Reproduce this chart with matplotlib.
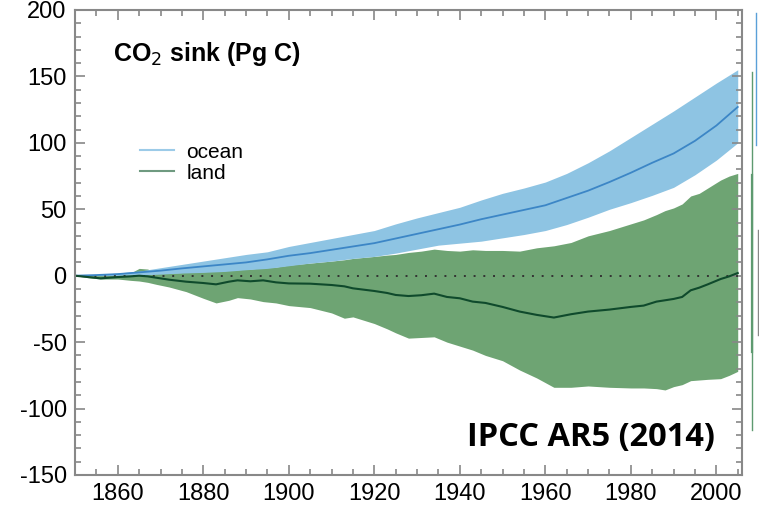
import numpy as np
import matplotlib
matplotlib.use('Agg')
import matplotlib.pyplot as plt
from matplotlib.lines import Line2D
from matplotlib.ticker import MultipleLocator

plt.rcParams['font.family'] = ['Liberation Sans', 'DejaVu Sans']
plt.rcParams['axes.unicode_minus'] = False

# ocean sink (Pg C): years, lower bound, central estimate, upper bound
ocean_years = [1850, 1855, 1860, 1865, 1870, 1875, 1880, 1885, 1890, 1895,
               1900, 1905, 1910, 1915, 1920, 1925, 1930, 1935, 1940, 1945,
               1950, 1955, 1960, 1965, 1970, 1975, 1980, 1985, 1990, 1995,
               2000, 2005]
ocean_low = [0, 0, 0.2, 0.5, 1.2, 2, 2.5, 3.2, 4.5, 5.5,
             7.5, 9.5, 11, 13, 14.5, 17, 20, 23, 24.5, 26,
             28.5, 31, 34, 38.5, 44, 50, 55, 60.5, 66.5, 76,
             87, 100]
ocean_mid = [0, 0.5, 1.2, 2.5, 3.8, 5.5, 7, 8.5, 10, 12.3,
             15, 17, 19.5, 22, 24.5, 28, 31.5, 35, 38.5, 42.5,
             46, 49.5, 53, 58.5, 64, 70.5, 77.5, 85, 92, 101.5,
             113, 127]
ocean_high = [0, 0.8, 2, 3.5, 6, 8.5, 11, 13.5, 16, 18,
              22, 25, 28, 31, 34, 39, 43.5, 47.5, 51.5, 57,
              62, 66, 70.5, 77, 85, 94, 104, 114, 124, 134.5,
              145, 155]

# land sink (Pg C)
land_years = [1850, 1853, 1856, 1860, 1863, 1865, 1867, 1869, 1872, 1876,
              1880, 1883, 1886, 1888, 1891, 1894, 1897, 1900, 1905, 1910,
              1913, 1915, 1920, 1923, 1925, 1928, 1931, 1934, 1937, 1940,
              1943, 1946, 1950, 1954, 1958, 1962, 1966, 1970, 1975, 1980,
              1983, 1986, 1988, 1990, 1992, 1994, 1996, 1998, 2001, 2003,
              2005]
land_low = [0, -1.5, -2.5, -2.5, -3.5, -4, -5, -6.5, -8.5, -12,
            -17, -20.5, -18.5, -16.5, -17.5, -19.5, -20.5, -22.5, -24, -28,
            -32, -31, -36, -40, -43, -47, -46.5, -46, -50, -53,
            -56, -60, -64, -71, -77, -84, -84, -83, -84, -84.5,
            -84.5, -85, -86, -83.5, -82, -79, -78.5, -78, -77.5, -75,
            -72]
land_mid = [0, -1, -2, -1, -0.5, 0, -0.5, -1.5, -3, -4.5,
            -5.5, -6.5, -4.5, -3.5, -4.2, -3.5, -5, -5.8, -6, -7,
            -8, -9.5, -11.5, -13, -14.5, -15.3, -14.7, -13.5, -16, -17,
            -19.5, -20.5, -23.5, -27, -29.5, -31.5, -29, -27, -25.5, -23.5,
            -22.5, -19.5, -18.5, -17.5, -16, -11, -9, -6.5, -2.5, -0.5,
            2]
land_high = [0, 0.5, 0.8, 1, 2, 5.5, 5, 2, 2, 2.5,
             3, 3.5, 4, 4.5, 5, 6, 6.5, 8, 9.5, 11,
             12, 13, 14.5, 15.5, 16, 17.5, 18.5, 20, 19, 18.5,
             19.5, 19, 19, 18.5, 21, 22.5, 25, 30, 34, 39,
             42, 46, 49, 51, 54, 60, 62, 66, 72, 75,
             77]

ocean_fill = '#8ec4e3'
ocean_line = '#3c86c6'
land_fill = '#6ea473'
land_line = '#0f4a2c'

fig = plt.figure(figsize=(7.59, 5.15), dpi=100)
ax = fig.add_axes([0.0988, 0.0777, 0.8788, 0.9029])

ax.fill_between(land_years, land_low, land_high, color=land_fill, lw=0)
ax.fill_between(ocean_years, ocean_low, ocean_high, color=ocean_fill, lw=0)
ax.plot([1850, 2005], [0, 0], color='#333333', lw=1.4, ls=(0, (1, 4)))
ax.plot(ocean_years, ocean_mid, color=ocean_line, lw=1.3)
ax.plot(land_years, land_mid, color=land_line, lw=1.5)

ax.set_xlim(1850, 2006)
ax.set_ylim(-150, 200)
ax.xaxis.set_major_locator(MultipleLocator(20))
ax.xaxis.set_minor_locator(MultipleLocator(5))
ax.yaxis.set_major_locator(MultipleLocator(50))
ax.yaxis.set_minor_locator(MultipleLocator(10))
ax.set_xticks([1860, 1880, 1900, 1920, 1940, 1960, 1980, 2000])

ax.tick_params(which='both', direction='in', top=True, right=True,
               color='#888888', width=1.2, labelsize=17, labelcolor='black')
ax.tick_params(which='major', length=7, pad=6)
ax.tick_params(which='minor', length=4)
for s in ax.spines.values():
    s.set_color('#888888')
    s.set_linewidth(1.5)

ax.text(1859, 167, r'CO$_2$ sink (Pg C)', fontsize=18, fontweight='bold',
        va='center', ha='left')

leg_lines = [Line2D([0], [0], color='#9ccbe8', lw=1.5),
             Line2D([0], [0], color='#6f9a80', lw=1.5)]
ax.legend(leg_lines, ['ocean', 'land'], loc='upper left',
          bbox_to_anchor=(0.07, 0.755), frameon=False, fontsize=15,
          handlelength=1.6, handletextpad=0.6, labelspacing=0.1)

ax.text(1999.7, -122, 'IPCC AR5 (2014)', fontsize=23.5, fontweight='bold',
        family=['Open Sans', 'DejaVu Sans'], ha='right', va='center')

# slivers of the neighbouring panel at the right edge
fig.add_artist(Line2D([755.5 / 759, 755.5 / 759], [1 - 13 / 515, 1 - 145 / 515],
                      color='#5aa0d8', lw=1))
fig.add_artist(Line2D([751.5 / 759, 751.5 / 759], [1 - 72 / 515, 1 - 430 / 515],
                      color='#5e9a70', lw=1))
fig.add_artist(Line2D([751.5 / 759, 751.5 / 759], [1 - 175 / 515, 1 - 352 / 515],
                      color='#5e9a70', lw=1.6))
fig.add_artist(Line2D([758 / 759, 758 / 759], [1 - 230 / 515, 1 - 335 / 515],
                      color='#888888', lw=1))

fig.savefig('out.png', dpi=100)
